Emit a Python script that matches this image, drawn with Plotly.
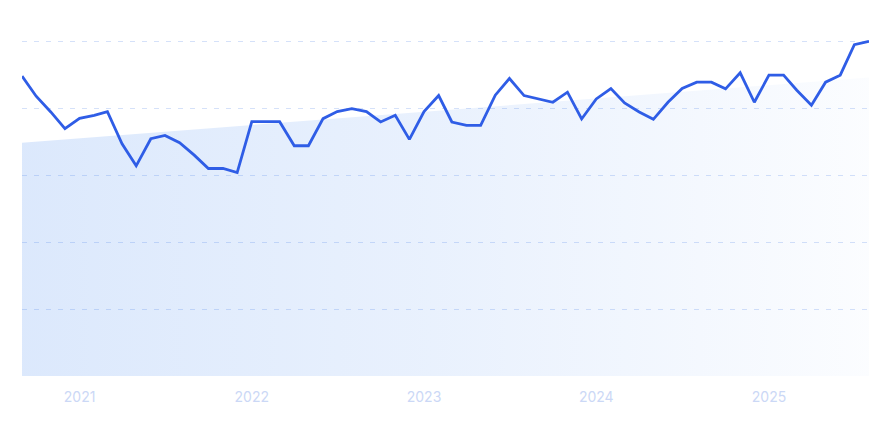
import pandas as pd
import plotly.graph_objects as go

months = pd.date_range("2020-09-01", "2025-08-01", freq="MS")
values = [
    89.6, 83.6, 78.9, 73.9, 77.0, 77.9, 79.0, 69.4, 62.8, 70.9,
    71.9, 69.7, 66.0, 62.0, 62.0, 60.8, 76.0, 76.0, 76.0, 68.8,
    68.8, 76.9, 79.0, 79.9, 79.0, 75.9, 77.9, 70.7, 79.0, 83.8,
    75.9, 74.9, 74.9, 83.9, 88.9, 83.8, 82.9, 81.8, 84.8, 76.8,
    82.8, 85.9, 81.6, 78.9, 76.7, 81.8, 85.9, 87.8, 87.8, 85.8,
    90.6, 81.8, 89.9, 89.9, 85.4, 80.9, 87.8, 89.9, 99.0, 100.0,
]
trend_x = [months[0], months[-1]]
trend_y = [69.7, 89.2]
tick_dates = ["2021-01-01", "2022-01-01", "2023-01-01", "2024-01-01", "2025-01-01"]
tick_labels = ["2021", "2022", "2023", "2024", "2025"]

fig = go.Figure()
fig.add_trace(go.Scatter(
    x=trend_x, y=trend_y, mode="lines", line=dict(width=0),
    fill="tozeroy",
    fillgradient=dict(type="horizontal",
                      colorscale=[[0, "rgba(59,130,240,0.18)"],
                                  [0.5, "rgba(59,130,240,0.11)"],
                                  [1, "rgba(59,130,240,0.02)"]]),
    hoverinfo="skip", showlegend=False,
))
fig.add_trace(go.Scatter(
    x=months, y=values, mode="lines",
    line=dict(color="#2F5DE6", width=2.8),
    showlegend=False,
))
fig.update_layout(
    width=874, height=414,
    margin=dict(l=14, r=13, t=32, b=46),
    paper_bgcolor="white", plot_bgcolor="white",
    font=dict(family="Inter", size=14, color="#CBD8F6"),
)
fig.update_yaxes(
    range=[0, 100.4], dtick=20, showticklabels=False, zeroline=False, showline=False,
    gridcolor="rgba(185,205,245,0.6)", griddash="5px,7px", gridwidth=1,
)
fig.update_xaxes(
    range=[months[0], months[-1]], tickvals=tick_dates, ticktext=tick_labels,
    showgrid=False, zeroline=False, showline=False, ticks="",
    tickfont=dict(size=14, color="#CBD8F6"), ticklabelstandoff=11,
)
fig.write_html("out.html")
